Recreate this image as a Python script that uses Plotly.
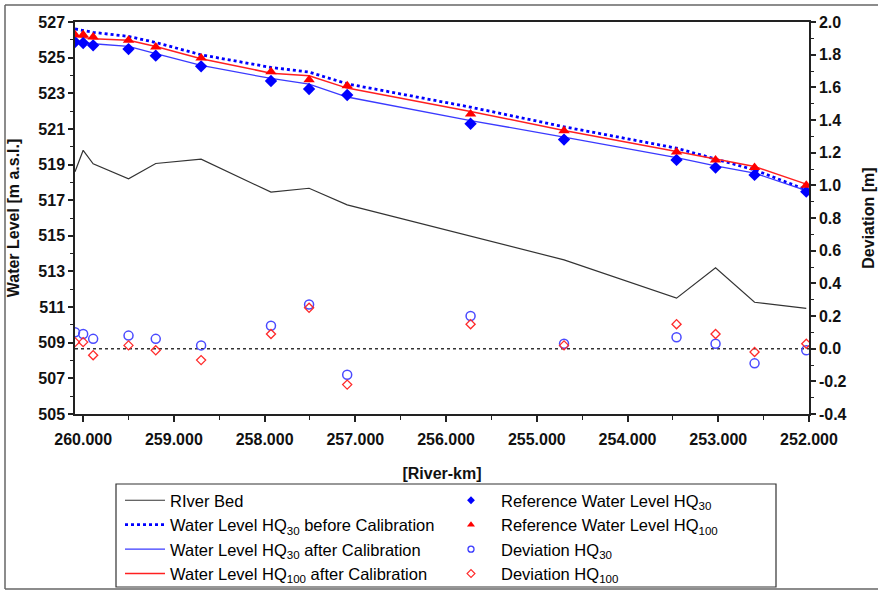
import plotly.graph_objects as go

# ---------------- data ----------------
stations = [260.09, 260.00, 259.89, 259.50, 259.20, 258.70, 257.93, 257.51,
            257.09, 255.73, 254.70, 253.46, 253.03, 252.60, 252.03]
river_bed = [518.60, 519.80, 519.04, 518.20, 519.06, 519.30, 517.45, 517.67,
             516.74, 514.98, 513.65, 511.50, 513.20, 511.27, 510.93]
wl_hq30_before = [526.61, 526.53, 526.42, 526.19, 525.85, 525.16, 524.45, 524.19,
                  523.53, 522.22, 521.12, 519.92, 519.30, 518.70, 517.58]
wl_hq30_after = [525.95, 525.85, 525.78, 525.63, 525.22, 524.56, 523.83, 523.52,
                 522.79, 521.47, 520.54, 519.39, 518.93, 518.52, 517.54]
wl_hq100_after = [526.20, 526.15, 526.06, 525.97, 525.63, 524.94, 524.13, 523.98,
                  523.29, 521.98, 520.91, 519.73, 519.30, 518.89, 517.90]
ref_hq30 = [525.88, 525.82, 525.69, 525.48, 525.11, 524.51, 523.69, 523.24,
            522.90, 521.29, 520.40, 519.26, 518.83, 518.42, 517.48]
ref_hq100 = [526.29, 526.29, 526.16, 525.97, 525.60, 524.98, 524.21, 523.76,
             523.42, 521.83, 520.89, 519.70, 519.25, 518.83, 517.84]
dev_hq30 = [0.10, 0.09, 0.06, 0.08, 0.06, 0.02, 0.14, 0.27,
            -0.16, 0.20, 0.03, 0.07, 0.03, -0.09, -0.01]
dev_hq100 = [0.04, 0.04, -0.04, 0.02, -0.01, -0.07, 0.09, 0.25,
             -0.22, 0.15, 0.02, 0.15, 0.09, -0.02, 0.03]

x_tickvals = [260, 259, 258, 257, 256, 255, 254, 253, 252]
x_ticktext = ["260.000", "259.000", "258.000", "257.000", "256.000",
              "255.000", "254.000", "253.000", "252.000"]
y_tickvals = list(range(505, 528, 2))
y2_tickvals = [-0.4, -0.2, 0.0, 0.2, 0.4, 0.6, 0.8, 1.0, 1.2, 1.4, 1.6, 1.8, 2.0]
y2_ticktext = ["-0.4", "-0.2", "0.0", "0.2", "0.4", "0.6", "0.8", "1.0",
               "1.2", "1.4", "1.6", "1.8", "2.0"]

names_lines = ["RIver Bed",
               "Water Level HQ<sub>30</sub> before Calibration",
               "Water Level HQ<sub>30</sub> after Calibration",
               "Water Level HQ<sub>100</sub> after Calibration"]
names_marks = ["Reference Water Level HQ<sub>30</sub>",
               "Reference Water Level HQ<sub>100</sub>",
               "Deviation HQ<sub>30</sub>",
               "Deviation HQ<sub>100</sub>"]

# ---------------- layout geometry ----------------
W, H = 878, 594
L, R, T, B = 75, 69, 22, 180
PW, PH = W - L - R, H - T - B


def px(x):
    return (x - L) / PW


def py(y):
    return (H - B - y) / PH


FONT = "Arial, 'Liberation Sans', Helvetica, sans-serif"
BLUE = "#0000ff"
LBLUE = "#3a3aff"
RED = "#ff2020"

fig = go.Figure()

# lines
fig.add_trace(go.Scatter(x=stations, y=river_bed, mode="lines",
                         line=dict(color="#333333", width=1.2),
                         name=names_lines[0], legend="legend"))
fig.add_trace(go.Scatter(x=stations, y=wl_hq30_before, mode="lines",
                         line=dict(color=BLUE, width=2.8, dash="dot"),
                         name=names_lines[1], legend="legend"))
fig.add_trace(go.Scatter(x=stations, y=wl_hq30_after, mode="lines",
                         line=dict(color=LBLUE, width=1.3),
                         name=names_lines[2], legend="legend"))
fig.add_trace(go.Scatter(x=stations, y=wl_hq100_after, mode="lines",
                         line=dict(color=RED, width=1.5),
                         name=names_lines[3], legend="legend"))

# reference markers
fig.add_trace(go.Scatter(x=stations, y=ref_hq30, mode="markers",
                         marker=dict(symbol="diamond", size=9.5, color=BLUE),
                         showlegend=False))
fig.add_trace(go.Scatter(x=stations, y=ref_hq100, mode="markers",
                         marker=dict(symbol="triangle-up", size=10, color="#ff0000"),
                         showlegend=False))
# deviations
fig.add_trace(go.Scatter(x=stations, y=dev_hq30, mode="markers", yaxis="y2",
                         marker=dict(symbol="circle-open", size=9, color="#4a4aff",
                                     line=dict(width=1.5)),
                         showlegend=False))
fig.add_trace(go.Scatter(x=stations, y=dev_hq100, mode="markers", yaxis="y2",
                         marker=dict(symbol="diamond-open", size=7, color="#ff2a2a",
                                     line=dict(width=1.3)),
                         showlegend=False))

# legend-only entries with small symbols
leg_syms = [("diamond", 6, BLUE, 0), ("triangle-up", 7, "#ff0000", 0),
            ("circle-open", 6, "#3a3aff", 1.3), ("diamond-open", 6, "#ff2a2a", 1.2)]
for nm, (sym, sz, col, lw) in zip(names_marks, leg_syms):
    fig.add_trace(go.Scatter(x=[None], y=[None], mode="markers", name=nm,
                             legend="legend2",
                             marker=dict(symbol=sym, size=sz, color=col,
                                         line=dict(width=lw, color=col))))

tick_font = dict(family=FONT, size=16, color="#111111", weight="bold")
title_font = dict(family=FONT, size=16, color="#111111", weight="bold")
LEG_FS = 16.5

fig.update_layout(
    width=W, height=H,
    margin=dict(l=L, r=R, t=T, b=B, autoexpand=False),
    paper_bgcolor="white", plot_bgcolor="white",
    font=dict(family=FONT, size=16, color="black"),
    xaxis=dict(range=[260.09, 252.0], tickvals=x_tickvals, ticktext=x_ticktext,
               ticks="outside", ticklen=6, tickwidth=1.5, tickcolor="#222",
               ticklabelstandoff=4,
               minor=dict(dtick=0.5, tick0=252, ticks="outside", ticklen=4,
                          tickwidth=1.2, tickcolor="#222"),
               showline=True, linecolor="#222", linewidth=2, mirror=True,
               showgrid=False, zeroline=False, tickfont=tick_font,
               title=dict(text="[River-km]", font=title_font, standoff=21),
               automargin=False),
    yaxis=dict(range=[505, 527], tickvals=y_tickvals,
               ticks="outside", ticklen=5, tickwidth=1.5, tickcolor="#222",
               minor=dict(dtick=1, tick0=505, ticks="outside", ticklen=3,
                          tickwidth=1.2, tickcolor="#222"),
               showline=True, linecolor="#222", linewidth=1.5,
               showgrid=False, zeroline=False, tickfont=tick_font,
               title=dict(text="Water Level [m a.s.l.]", font=title_font, standoff=15),
               automargin=False),
    yaxis2=dict(range=[-0.4, 2.0], tickvals=y2_tickvals, ticktext=y2_ticktext,
                overlaying="y", side="right",
                ticks="outside", ticklen=5, tickwidth=1.5, tickcolor="#222",
                minor=dict(dtick=0.1, tick0=0, ticks="outside", ticklen=3,
                           tickwidth=1.2, tickcolor="#222"),
                showline=True, linecolor="#222", linewidth=1.5,
                showgrid=False, zeroline=False, tickfont=tick_font,
                title=dict(text="Deviation [m]", font=title_font, standoff=17),
                automargin=False),
    legend=dict(x=px(120), y=py(483), xanchor="left", yanchor="top",
                bgcolor="rgba(0,0,0,0)", borderwidth=0, itemwidth=40,
                font=dict(family=FONT, size=LEG_FS, color="black"),
                itemclick=False, itemdoubleclick=False),
    legend2=dict(x=px(441), y=py(483), xanchor="left", yanchor="top",
                 bgcolor="rgba(0,0,0,0)", borderwidth=0, itemwidth=50,
                 font=dict(family=FONT, size=LEG_FS, color="black"),
                 itemclick=False, itemdoubleclick=False),
    shapes=[
        # zero line of deviation axis
        dict(type="line", xref="paper", x0=0, x1=1, yref="y2", y0=0, y1=0,
             line=dict(color="#333333", width=1.5, dash="dot"), layer="below"),
        # legend box
        dict(type="rect", xref="paper", yref="paper",
             x0=px(116), x1=px(776), y0=py(587), y1=py(484),
             line=dict(color="#333333", width=1.2)),
        # outer frame (top, left, bottom; right side runs off the page)
        dict(type="line", xref="paper", yref="paper",
             x0=px(5), x1=px(878), y0=py(5), y1=py(5),
             line=dict(color="#666666", width=1.5)),
        dict(type="line", xref="paper", yref="paper",
             x0=px(5), x1=px(5), y0=py(5), y1=py(589),
             line=dict(color="#666666", width=1.5)),
        dict(type="line", xref="paper", yref="paper",
             x0=px(5), x1=px(878), y0=py(589), y1=py(589),
             line=dict(color="#666666", width=1.5)),
    ],
)

fig.write_html("out.html", config={"displayModeBar": False},
               post_script="document.body.style.margin='0';document.body.style.padding='0';")
